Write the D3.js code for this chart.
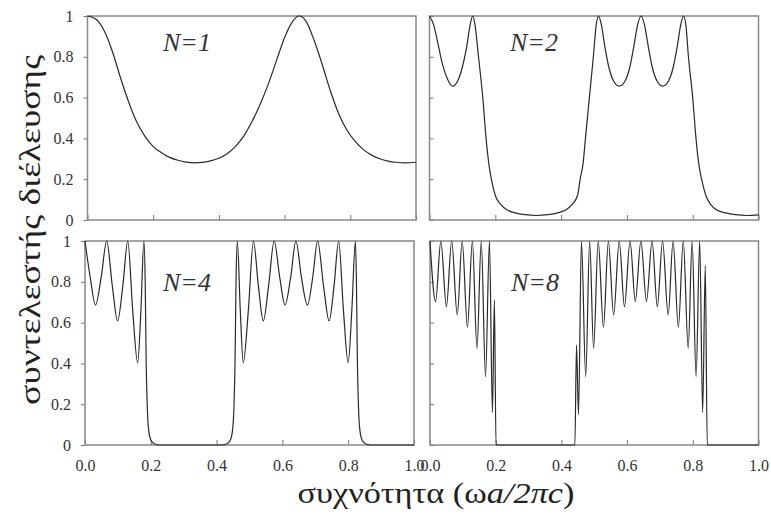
<!DOCTYPE html>
<html><head><meta charset="utf-8">
<script src="https://cdn.jsdelivr.net/npm/d3@7"></script>
<style>body{margin:0;background:#fff} svg{display:block}</style>
</head><body>
<svg id="c" width="771" height="516"></svg>
<script>
// ---- data ----
const xTicks = [0, 0.2, 0.4, 0.6, 0.8, 1.0];
const xTickLabels = ["0.0", "0.2", "0.4", "0.6", "0.8", "1.0"];
const yTicks = [0, 0.2, 0.4, 0.6, 0.8, 1];
const yTickLabels = ["0", "0.2", "0.4", "0.6", "0.8", "1"];
const panelNames = ["N=1", "N=2", "N=4", "N=8"];
const xTitle = "συχνότητα (ω";
const xTitleItalic = "a/2πc";
const yTitle = "συντελεστής διέλευσης";

// N=1 : [frequency, transmission]
const n1 = [[0,1.0],[0.025,0.985],[0.05,0.93],[0.075,0.83],[0.1,0.70],[0.125,0.58],[0.15,0.48],[0.175,0.41],[0.2,0.36],[0.225,0.33],
  [0.25,0.307],[0.275,0.293],[0.3,0.284],[0.325,0.28],[0.35,0.282],[0.375,0.29],[0.4,0.303],[0.425,0.325],[0.45,0.36],[0.475,0.41],
  [0.5,0.48],[0.525,0.565],[0.55,0.665],[0.575,0.78],[0.6,0.895],[0.625,0.975],[0.644,1.0],[0.665,0.975],[0.69,0.88],[0.715,0.76],
  [0.74,0.63],[0.765,0.52],[0.79,0.44],[0.815,0.385],[0.84,0.345],[0.865,0.318],[0.89,0.3],[0.915,0.289],[0.94,0.283],[0.965,0.28],[1.0,0.283]];

// N=2
const n2 = [[0,1],[0.012,0.96],[0.025,0.87],[0.04,0.76],[0.055,0.69],[0.07,0.656],[0.085,0.68],[0.1,0.75],[0.112,0.84],[0.123,0.95],[0.131,1],
  [0.138,0.96],[0.149,0.8],[0.162,0.6],[0.172,0.4],[0.18,0.28],[0.188,0.2],[0.2,0.12],[0.217,0.075],[0.235,0.05],[0.26,0.035],[0.29,0.026],
  [0.324,0.022],[0.36,0.026],[0.39,0.035],[0.415,0.05],[0.433,0.075],[0.45,0.12],[0.458,0.2],[0.467,0.28],[0.474,0.4],[0.486,0.6],[0.498,0.8],
  [0.507,0.96],[0.514,1],[0.522,0.96],[0.533,0.85],[0.545,0.75],[0.56,0.68],[0.577,0.656],[0.594,0.68],[0.609,0.75],[0.621,0.85],[0.633,0.96],
  [0.643,1],[0.653,0.96],[0.665,0.85],[0.677,0.75],[0.692,0.68],[0.709,0.656],[0.726,0.68],[0.741,0.75],[0.753,0.85],[0.764,0.96],[0.772,1],
  [0.779,0.96],[0.787,0.8],[0.8,0.6],[0.81,0.4],[0.818,0.28],[0.827,0.2],[0.84,0.12],[0.855,0.075],[0.872,0.05],[0.9,0.035],[0.93,0.026],
  [0.965,0.022],[1.0,0.025]];

// N=4
const n4 = [[0,1],[0.016,0.82],[0.032,0.686],[0.049,0.82],[0.066,1],[0.083,0.78],[0.099,0.608],[0.115,0.78],[0.13,1],[0.145,0.66],
  [0.16,0.403],[0.17,0.66],[0.179,1],[0.183,0.8],[0.186,0.4],[0.189,0.2],[0.193,0.08],[0.2,0.025],[0.212,0.005],[0.228,0],
  [0.414,0],[0.43,0.005],[0.442,0.025],[0.449,0.08],[0.453,0.2],[0.456,0.4],[0.459,0.8],[0.463,1],[0.472,0.66],[0.481,0.403],
  [0.4965,0.66],[0.512,1],[0.527,0.78],[0.542,0.608],[0.558,0.78],[0.575,1],[0.592,0.82],[0.608,0.686],[0.625,0.82],[0.641,1],
  [0.658,0.82],[0.676,0.686],[0.692,0.82],[0.707,1],[0.725,0.78],[0.742,0.608],[0.757,0.78],[0.771,1],[0.7855,0.66],[0.8,0.403],
  [0.811,0.66],[0.822,1],[0.825,0.8],[0.828,0.4],[0.831,0.2],[0.835,0.08],[0.842,0.025],[0.854,0.005],[0.87,0],[1,0]];

// N=8
const n8 = [[0,1],[0.017,0.703],[0.033,1],[0.05,0.678],[0.066,1],[0.083,0.637],[0.098,1],[0.114,0.576],[0.129,1],[0.143,0.474],
  [0.156,1],[0.169,0.335],[0.181,1],[0.19,0.16],[0.196,0.71],[0.201,0],
  [0.441,0],[0.446,0.49],[0.452,0.15],[0.461,1],[0.474,0.335],[0.486,1],[0.498,0.474],[0.512,1],[0.528,0.576],[0.543,1],
  [0.559,0.637],[0.576,1],[0.592,0.678],[0.609,1],[0.625,0.703],[0.642,1],[0.659,0.703],[0.676,1],[0.692,0.678],[0.708,1],
  [0.725,0.637],[0.74,1],[0.756,0.576],[0.771,1],[0.786,0.474],[0.798,1],[0.81,0.335],[0.821,1],[0.83,0.16],[0.838,0.88],
  [0.844,0],[1,0]];

const seriesList = [n1, n2, n4, n8];

// ---- layout ----
const layout = [
  {x0: 87.5, x1: 416,   y0: 16,  y1: 220, left: true,  bottom: false, lx: 163, ly: 51},
  {x0: 429.5, x1: 758.5, y0: 16,  y1: 220, left: false, bottom: false, lx: 510, ly: 51},
  {x0: 85,   x1: 414,   y0: 241, y1: 445, left: true,  bottom: true,  lx: 163, ly: 291},
  {x0: 430,  x1: 758.5, y0: 241, y1: 445, left: false, bottom: true,  lx: 511, ly: 291}
];

const FONT = "Liberation Serif";
const svg = d3.select("#c");

layout.forEach((p, i) => {
  const x = d3.scaleLinear().domain([0, 1]).range([p.x0, p.x1]);
  const y = d3.scaleLinear().domain([0, 1]).range([p.y1, p.y0]);
  const g = svg.append("g");

  // x axis (ticks inside)
  const ax = d3.axisBottom(x).tickValues(xTicks).tickSize(-5).tickPadding(15)
    .tickFormat(p.bottom ? (d, k) => xTickLabels[k] : () => "");
  const gx = g.append("g").attr("transform", `translate(0,${p.y1})`).call(ax)
    .attr("font-family", FONT).attr("font-size", 16);
  gx.select(".domain").remove();
  gx.selectAll("line").attr("stroke", "#777");
  gx.selectAll("text").attr("font-family", FONT).attr("fill", "#333");

  // y axis
  const ay = d3.axisLeft(y).tickValues(yTicks).tickSize(p.left ? 4 : -4).tickPadding(10)
    .tickFormat(p.left ? (d, k) => yTickLabels[k] : () => "");
  const gy = g.append("g").attr("transform", `translate(${p.x0},0)`).call(ay)
    .attr("font-family", FONT).attr("font-size", 16);
  gy.select(".domain").remove();
  gy.selectAll("line").attr("stroke", "#777");
  gy.selectAll("text").attr("font-family", FONT).attr("fill", "#333");

  // frame
  g.append("rect").attr("x", p.x0).attr("y", p.y0)
    .attr("width", p.x1 - p.x0).attr("height", p.y1 - p.y0)
    .attr("fill", "none").attr("stroke", "#888").attr("stroke-width", 1.5);

  // curve
  const line = d3.line().x(d => x(d[0])).y(d => y(d[1])).curve(d3.curveMonotoneX);
  g.append("path").datum(seriesList[i]).attr("d", line)
    .attr("fill", "none").attr("stroke", "#2a2a2a").attr("stroke-width", 1.2);

  // panel label
  g.append("text").attr("x", p.lx).attr("y", p.ly)
    .attr("font-family", FONT).attr("font-style", "italic").attr("font-size", 26)
    .attr("fill", "#333").text(panelNames[i]);
});

// axis titles
const xt = svg.append("text").attr("x", 436).attr("y", 503).attr("text-anchor", "middle")
  .attr("font-family", FONT).attr("font-size", 30).attr("fill", "#222")
  .attr("textLength", 277).attr("lengthAdjust", "spacingAndGlyphs");
xt.append("tspan").text(xTitle);
xt.append("tspan").attr("font-style", "italic").text(xTitleItalic);
xt.append("tspan").text(")");

svg.append("text").attr("transform", "translate(40,230) rotate(-90)")
  .attr("text-anchor", "middle")
  .attr("font-family", FONT).attr("font-size", 30).attr("fill", "#222")
  .attr("textLength", 350).attr("lengthAdjust", "spacingAndGlyphs")
  .text(yTitle);
</script>
</body></html>
